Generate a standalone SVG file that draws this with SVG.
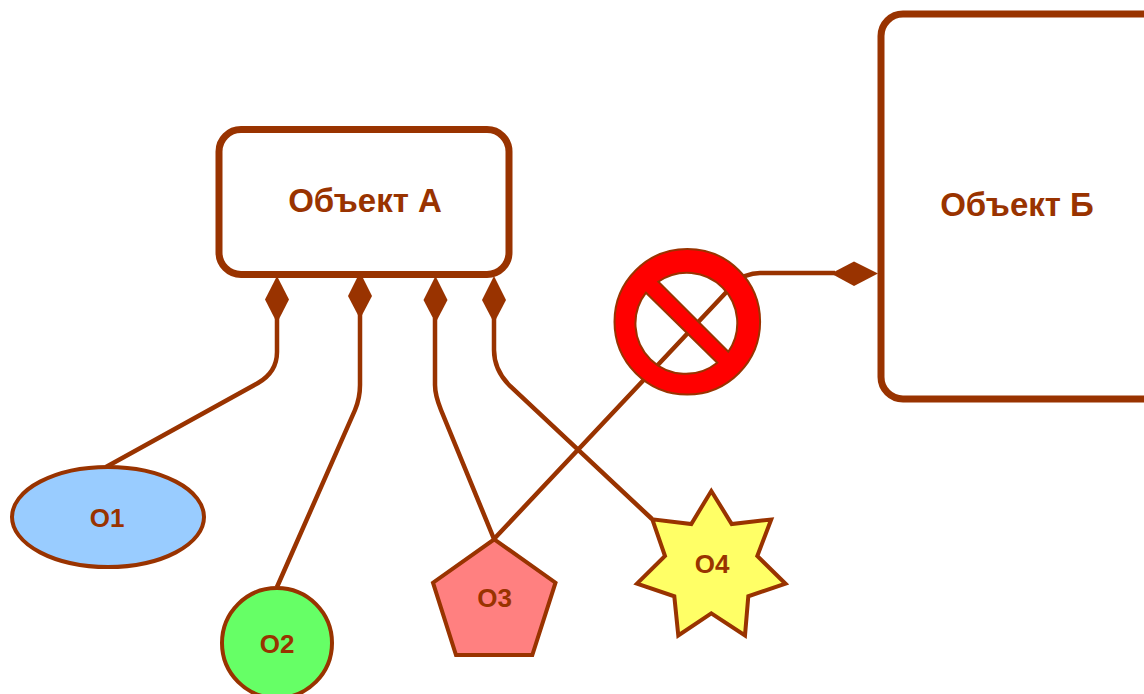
<svg xmlns="http://www.w3.org/2000/svg" width="1144" height="694" viewBox="0 0 1144 694">
<style>
.c{fill:none;stroke:#993300;stroke-width:4.5}
.d{fill:#993300;stroke:none}
.b{fill:#fff;stroke:#993300;stroke-width:7}
.s{stroke:#993300;stroke-width:4}
text{font-family:"Liberation Sans",Arial,sans-serif;font-weight:700;fill:#993300;text-anchor:middle}
.l{font-size:33px}
.m{font-size:26px}
</style>
<rect width="1144" height="694" fill="#fff"/>
<g id="connectors">
<path class="c" d="M277,318V352Q277,372 258,383L106,467"/>
<path class="c" d="M360,314V385Q360,398 355,410L277,587"/>
<path class="c" d="M435,318V385Q435,395 441,410L494,539"/>
<path class="c" d="M494,318V350Q494,370 510,386L652,519"/>
<path class="c" d="M494,539L734,284Q745,273 760,273L835,273"/>
<polygon class="d" points="277,276 289,299.5 277,323 265,299.5"/>
<polygon class="d" points="360,272 372,296 360,319 348,296"/>
<polygon class="d" points="435.500,276 447.500,300 435.500,323 423.500,300"/>
<polygon class="d" points="494,276 506,300 494,323 482,300"/>
<polygon class="d" points="831,273.500 854,261.500 878,273.500 854,286"/>
</g>
<g id="objA"><rect class="b" x="219" y="129.500" width="290" height="145" rx="22"/><text class="l" x="365" y="212">Объект А</text></g>
<g id="objB"><rect class="b" x="881" y="14" width="290" height="385" rx="22"/><text class="l" x="1017" y="216">Объект Б</text></g>
<g id="forbid"><path fill="#f00" stroke="#993300" stroke-width="2" fill-rule="evenodd" d="M614.500,321.700a72.800,72.800 0 1,0 145.600,0a72.800,72.800 0 1,0 -145.600,0ZM658.300,281.700A50.300,50.300 0 0 1 728.300,351.700ZM646,292.700A50.300,50.300 0 0 0 717.300,362.700Z"/></g>
<g id="o1"><ellipse class="s" cx="108" cy="517" rx="96" ry="50" fill="#99ccff"/><text class="m" x="107" y="527">O1</text></g>
<g id="o2"><circle class="s" cx="277" cy="643" r="55" fill="#66ff66"/><text class="m" x="277" y="653">O2</text></g>
<g id="o3"><polygon class="s" fill="#ff8080" points="494.300,539.300 555.500,582.700 532.300,655 456,655 433,582.700"/><text class="m" x="494.500" y="607">O3</text></g>
<g id="o4"><polygon class="s" fill="#ffff66" points="711.300,491 731.700,524 771.200,519.500 757.300,556 785.500,583.700 748.300,596.300 745,635.500 711.300,613.300 678.300,635.500 674.300,596.300 637,583.700 665,556 652.300,519.300 691.300,524"/><text class="m" x="712" y="573">O4</text></g>
</svg>
